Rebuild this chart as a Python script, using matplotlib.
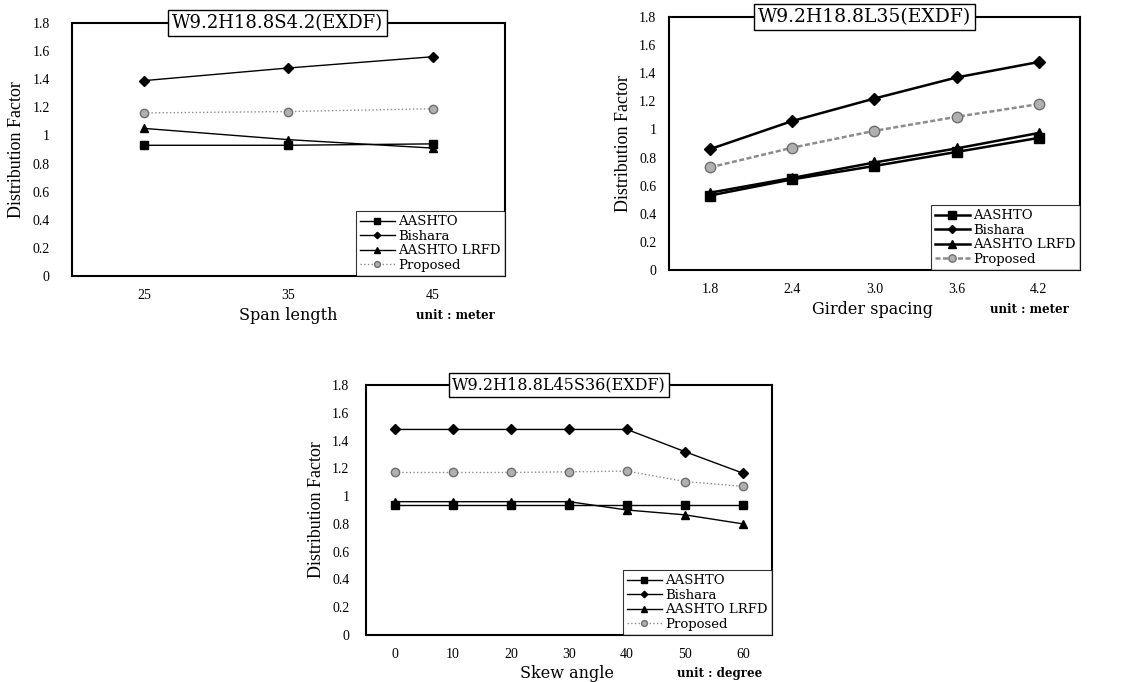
import matplotlib
matplotlib.use('Agg')
import matplotlib.pyplot as plt

plt.rcParams['font.family'] = ['DejaVu Serif']

series_names = ['AASHTO', 'Bishara', 'AASHTO LRFD', 'Proposed']

# panel 1: span length
span_labels = ['25', '35', '45']
span_aashto = [0.93, 0.93, 0.94]
span_bishara = [1.39, 1.48, 1.56]
span_lrfd = [1.05, 0.97, 0.91]
span_proposed = [1.16, 1.17, 1.19]

# panel 2: girder spacing
spacing_labels = ['1.8', '2.4', '3.0', '3.6', '4.2']
spacing_aashto = [0.53, 0.645, 0.74, 0.84, 0.94]
spacing_bishara = [0.86, 1.06, 1.22, 1.37, 1.48]
spacing_lrfd = [0.55, 0.655, 0.765, 0.865, 0.975]
spacing_proposed = [0.73, 0.87, 0.99, 1.09, 1.18]

# panel 3: skew angle
skew_labels = ['0', '10', '20', '30', '40', '50', '60']
skew_aashto = [0.935, 0.935, 0.935, 0.935, 0.935, 0.935, 0.935]
skew_bishara = [1.48, 1.48, 1.48, 1.48, 1.48, 1.32, 1.165]
skew_lrfd = [0.96, 0.96, 0.96, 0.96, 0.90, 0.865, 0.80]
skew_proposed = [1.17, 1.17, 1.17, 1.175, 1.18, 1.105, 1.07]

styles = [
    dict(marker='s', color='black', mfc='black'),
    dict(marker='D', color='black', mfc='black'),
    dict(marker='^', color='black', mfc='black'),
    dict(marker='o', color='#8c8c8c', mfc='#b0b0b0', mec='#6e6e6e'),
]


def draw_panel(rect, labels, data, title, title_size, xlabel, unit, lw, ms, ypad,
               xlab_x, unit_x, prop_ls):
    ax = fig.add_axes(rect)
    x = list(range(len(labels)))
    for i, (vals, name, st) in enumerate(zip(data, series_names, styles)):
        size = ms - 1.3 if st['marker'] == 'D' else ms
        ls = prop_ls if i == 3 else '-'
        ax.plot(x, vals, lw=lw, ls=ls, ms=size, label=name, **st)
    ax.set_xlim(-0.5, len(labels) - 0.5)
    ax.set_ylim(0, 1.8)
    ax.set_yticks([0, 0.2, 0.4, 0.6, 0.8, 1, 1.2, 1.4, 1.6, 1.8])
    ax.set_yticklabels(['0', '0.2', '0.4', '0.6', '0.8', '1', '1.2', '1.4', '1.6', '1.8'],
                       family='Liberation Serif', fontsize=10)
    ax.set_xticks(x)
    ax.set_xticklabels(labels, family='Liberation Serif', fontsize=10)
    ax.tick_params(axis='x', length=0, pad=9)
    ax.tick_params(axis='y', length=0, pad=ypad)
    for s in ax.spines.values():
        s.set_linewidth(1.5)
    ax.set_ylabel('Distribution Factor', family='Liberation Serif', fontsize=13, labelpad=5)
    ax.text(0.475, 1.0, title, transform=ax.transAxes, ha='center', va='center',
            fontsize=title_size, bbox=dict(boxstyle='square,pad=0.2', fc='white', ec='black', lw=1))
    ax.text(xlab_x, -0.155, xlabel, transform=ax.transAxes, ha='center', va='center', fontsize=11.5)
    ax.text(unit_x, -0.155, unit, transform=ax.transAxes, ha='center', va='center', fontsize=8.5,
            fontweight='bold')
    leg = ax.legend(loc='lower right', prop={'family': 'DejaVu Serif', 'size': 9.5},
                    frameon=True, fancybox=False, borderaxespad=0, handlelength=2.6,
                    handletextpad=0.3, labelspacing=0.12, borderpad=0.3, markerscale=0.7)
    leg.get_frame().set_edgecolor('black')
    leg.get_frame().set_linewidth(0.8)
    return ax


fig = plt.figure(figsize=(11.23, 6.82), dpi=100)

draw_panel([0.0641, 0.5953, 0.3856, 0.371], span_labels,
           [span_aashto, span_bishara, span_lrfd, span_proposed],
           'W9.2H18.8S4.2(EXDF)', 13, 'Span length', 'unit : meter', 1.0, 6, 16, 0.5, 0.885, ':')
draw_panel([0.5957, 0.6041, 0.366, 0.371], spacing_labels,
           [spacing_aashto, spacing_bishara, spacing_lrfd, spacing_proposed],
           'W9.2H18.8L35(EXDF)', 13.5, 'Girder spacing', 'unit : meter', 1.8, 7.5, 9, 0.496, 0.878,
           (0, (2, 1)))
draw_panel([0.3259, 0.0689, 0.3615, 0.3666], skew_labels,
           [skew_aashto, skew_bishara, skew_lrfd, skew_proposed],
           'W9.2H18.8L45S36(EXDF)', 11.5, 'Skew angle', 'unit : degree', 1.0, 6, 12, 0.495, 0.872, ':')

fig.savefig('out.png', dpi=100)
